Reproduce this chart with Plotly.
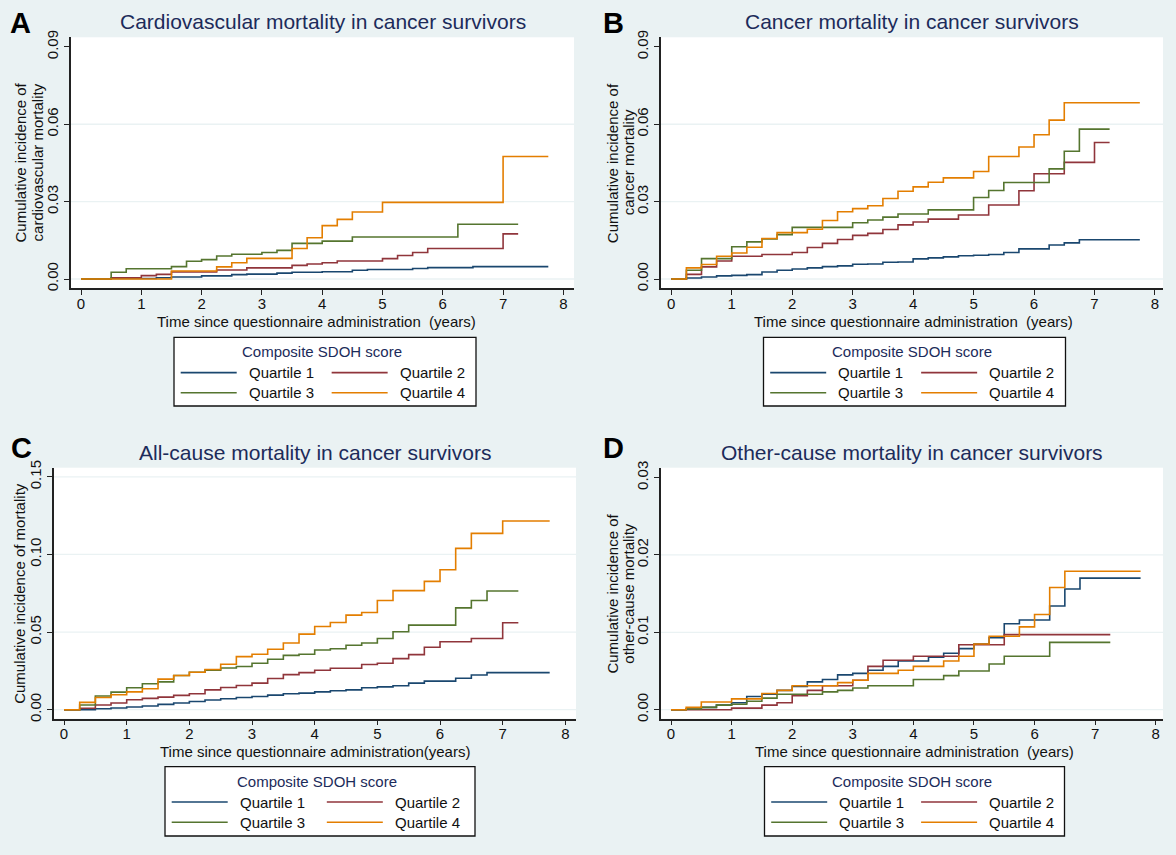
import plotly.graph_objects as go

W, H = 1176, 855
FONT = "Liberation Sans, Arial, sans-serif"
NAVY = "#1c2b5a"
BG = "#EAF2F3"

# ---------------- data ----------------
quartile_names = ["Quartile 1", "Quartile 2", "Quartile 3", "Quartile 4"]
quartile_colors = ["#1A476F", "#90353B", "#55752F", "#E37E00"]

# Panel A: cardiovascular mortality
A_q1_t = [0, 0.5, 1.25, 1.5, 2.0, 2.5, 2.75, 3.25, 3.5, 4.0, 4.5, 4.75, 5.5, 5.75, 6.5, 7.75]
A_q1_y = [0, 0.0002, 0.0005, 0.0008, 0.0012, 0.0017, 0.0019, 0.0023, 0.0026, 0.0028, 0.0034, 0.0037, 0.0041, 0.0044, 0.0048, 0.0048]
A_q2_t = [0, 0.5, 1.0, 1.25, 1.5, 2.25, 2.75, 3.5, 3.75, 4.0, 4.25, 5.0, 5.25, 5.5, 5.75, 7.0, 7.25]
A_q2_y = [0, 0.0005, 0.0013, 0.0018, 0.0027, 0.0035, 0.0043, 0.0053, 0.0058, 0.0063, 0.0070, 0.0079, 0.0091, 0.0103, 0.0118, 0.0175, 0.0175]
A_q3_t = [0, 0.5, 0.75, 1.5, 1.75, 2.0, 2.25, 2.5, 3.0, 3.25, 3.5, 4.0, 4.5, 6.25, 7.25]
A_q3_y = [0, 0.0026, 0.0040, 0.0048, 0.0069, 0.0075, 0.0089, 0.0096, 0.0103, 0.0111, 0.0138, 0.0147, 0.0163, 0.0212, 0.0212]
A_q4_t = [0, 1.5, 2.25, 2.5, 2.75, 3.5, 3.75, 4.0, 4.25, 4.5, 5.0, 7.0, 7.75]
A_q4_y = [0, 0.0031, 0.0047, 0.0063, 0.0080, 0.0118, 0.0160, 0.0207, 0.0231, 0.0260, 0.0297, 0.0475, 0.0475]

# Panel B: cancer mortality
B_q1_t = [0, 0.25, 0.5, 0.75, 1.0, 1.25, 1.5, 1.75, 2.0, 2.25, 2.5, 2.75, 3.0, 3.25, 3.5, 3.75, 4.0, 4.25, 4.5, 4.75, 5.0, 5.25, 5.5, 5.75, 6.25, 6.5, 6.75, 7.75]
B_q1_y = [0, 0.0004, 0.0008, 0.0012, 0.0014, 0.0017, 0.0027, 0.0034, 0.0039, 0.0043, 0.0048, 0.0051, 0.0057, 0.0058, 0.0065, 0.0066, 0.0078, 0.0082, 0.0086, 0.0090, 0.0092, 0.0095, 0.0103, 0.0117, 0.0132, 0.0140, 0.0152, 0.0152]
B_q2_t = [0, 0.25, 0.5, 0.75, 1.0, 1.5, 2.0, 2.25, 2.5, 2.75, 3.0, 3.25, 3.5, 3.75, 4.0, 4.25, 4.75, 5.25, 5.75, 6.0, 6.5, 7.0, 7.25]
B_q2_y = [0, 0.0018, 0.0047, 0.0070, 0.0088, 0.0095, 0.0103, 0.0122, 0.0138, 0.0153, 0.0169, 0.0177, 0.0192, 0.0210, 0.0221, 0.0232, 0.0248, 0.0287, 0.0342, 0.0408, 0.0452, 0.0529, 0.0529]
B_q3_t = [0, 0.25, 0.5, 1.0, 1.25, 1.5, 1.75, 2.0, 3.0, 3.25, 3.5, 3.75, 4.25, 5.0, 5.25, 5.5, 6.25, 6.5, 6.75, 7.25]
B_q3_y = [0, 0.0034, 0.0079, 0.0125, 0.0144, 0.0155, 0.0172, 0.0200, 0.0218, 0.0229, 0.0240, 0.0252, 0.0268, 0.0316, 0.0343, 0.0374, 0.0427, 0.0495, 0.0581, 0.0581]
B_q4_t = [0, 0.25, 0.5, 0.75, 1.0, 1.25, 1.5, 1.75, 2.25, 2.5, 2.75, 3.0, 3.25, 3.5, 3.75, 4.0, 4.25, 4.5, 5.0, 5.25, 5.75, 6.0, 6.25, 6.5, 7.75]
B_q4_y = [0, 0.0043, 0.0056, 0.0088, 0.0101, 0.0123, 0.0157, 0.0180, 0.0193, 0.0227, 0.0261, 0.0273, 0.0284, 0.0312, 0.0340, 0.0357, 0.0375, 0.0392, 0.0417, 0.0475, 0.0512, 0.0559, 0.0616, 0.0683, 0.0683]

# Panel C: all-cause mortality
C_q1_t = [0, 0.5, 0.75, 1.0, 1.25, 1.5, 1.75, 2.0, 2.25, 2.5, 2.75, 3.0, 3.25, 3.5, 3.75, 4.0, 4.25, 4.5, 4.75, 5.0, 5.25, 5.5, 5.75, 6.25, 6.5, 6.75, 7.75]
C_q1_y = [0, 0.0006, 0.0011, 0.0017, 0.0024, 0.0034, 0.0043, 0.0053, 0.0062, 0.0071, 0.0079, 0.0085, 0.0094, 0.0103, 0.0107, 0.0115, 0.0122, 0.0128, 0.0141, 0.0147, 0.0154, 0.0171, 0.0184, 0.0203, 0.0224, 0.0239, 0.0239]
C_q2_t = [0, 0.25, 0.5, 0.75, 1.0, 1.25, 1.5, 1.75, 2.0, 2.25, 2.5, 2.75, 3.0, 3.25, 3.5, 3.75, 4.0, 4.25, 4.75, 5.0, 5.25, 5.5, 5.75, 6.0, 6.5, 7.0, 7.25]
C_q2_y = [0, 0.0009, 0.0030, 0.0043, 0.0064, 0.0073, 0.0081, 0.0092, 0.0103, 0.0128, 0.0143, 0.0156, 0.0171, 0.0201, 0.0226, 0.0239, 0.0254, 0.0267, 0.0291, 0.0299, 0.0329, 0.0355, 0.0402, 0.0438, 0.0459, 0.0560, 0.0560]
C_q3_t = [0, 0.25, 0.5, 0.75, 1.0, 1.25, 1.5, 1.75, 2.0, 2.25, 2.5, 2.75, 3.0, 3.25, 3.5, 3.75, 4.0, 4.25, 4.5, 4.75, 5.0, 5.25, 5.5, 6.25, 6.5, 6.75, 7.25]
C_q3_y = [0, 0.0030, 0.0088, 0.0113, 0.0141, 0.0167, 0.0179, 0.0220, 0.0241, 0.0255, 0.0269, 0.0278, 0.0299, 0.0325, 0.0350, 0.0357, 0.0385, 0.0393, 0.0415, 0.0430, 0.0459, 0.0502, 0.0545, 0.0656, 0.0703, 0.0765, 0.0765]
C_q4_t = [0, 0.25, 0.5, 0.75, 1.0, 1.25, 1.5, 1.75, 2.0, 2.25, 2.5, 2.75, 3.0, 3.25, 3.5, 3.75, 4.0, 4.25, 4.5, 4.75, 5.0, 5.25, 5.75, 6.0, 6.25, 6.5, 7.0, 7.75]
C_q4_y = [0, 0.0047, 0.0079, 0.0096, 0.0115, 0.0135, 0.0197, 0.0220, 0.0241, 0.0259, 0.0293, 0.0342, 0.0357, 0.0389, 0.0430, 0.0487, 0.0536, 0.0562, 0.0609, 0.0626, 0.0703, 0.0767, 0.0827, 0.0902, 0.1039, 0.1136, 0.1216, 0.1216]

# Panel D: other-cause mortality
D_q1_t = [0, 0.25, 0.5, 0.75, 1.0, 1.25, 1.5, 1.75, 2.0, 2.25, 2.5, 2.75, 3.0, 3.25, 3.5, 3.75, 4.25, 4.5, 4.75, 5.0, 5.25, 5.5, 5.75, 6.25, 6.5, 6.75, 7.75]
D_q1_y = [0, 0.0001, 0.0003, 0.0006, 0.0009, 0.0017, 0.0020, 0.0025, 0.0030, 0.0036, 0.0039, 0.0045, 0.0047, 0.0051, 0.0056, 0.0063, 0.0068, 0.0073, 0.0079, 0.0085, 0.0093, 0.0111, 0.0116, 0.0134, 0.0156, 0.0170, 0.0170]
D_q2_t = [0, 1.0, 1.5, 1.75, 2.0, 2.25, 2.5, 3.0, 3.25, 3.5, 4.0, 4.75, 5.5, 7.25]
D_q2_y = [0, 0.0002, 0.0006, 0.0009, 0.0018, 0.0025, 0.0031, 0.0038, 0.0056, 0.0064, 0.0069, 0.0084, 0.0097, 0.0097]
D_q3_t = [0, 0.25, 0.5, 0.75, 1.0, 1.25, 1.5, 1.75, 2.5, 2.75, 3.0, 3.25, 4.0, 4.5, 4.75, 5.25, 5.5, 6.25, 7.25]
D_q3_y = [0, 0.0001, 0.0003, 0.0006, 0.0007, 0.0011, 0.0015, 0.0020, 0.0023, 0.0025, 0.0028, 0.0031, 0.0039, 0.0044, 0.0050, 0.0059, 0.0069, 0.0087, 0.0087]
D_q4_t = [0, 0.25, 0.5, 1.0, 1.5, 1.75, 2.0, 2.75, 3.0, 3.25, 3.75, 4.0, 4.5, 4.75, 5.0, 5.25, 5.75, 6.0, 6.25, 6.5, 7.75]
D_q4_y = [0, 0.0003, 0.0010, 0.0014, 0.0021, 0.0025, 0.0031, 0.0035, 0.0038, 0.0047, 0.0051, 0.0056, 0.0063, 0.0069, 0.0085, 0.0095, 0.0107, 0.0123, 0.0158, 0.0179, 0.0179]

x_ticks = [0, 1, 2, 3, 4, 5, 6, 7, 8]
A_y_ticks = [0.00, 0.03, 0.06, 0.09]
B_y_ticks = [0.00, 0.03, 0.06, 0.09]
C_y_ticks = [0.00, 0.05, 0.10, 0.15]
D_y_ticks = [0.00, 0.01, 0.02, 0.03]
A_grid = [0.00, 0.03, 0.06]
B_grid = [0.00, 0.03, 0.06]
C_grid = [0.00, 0.05, 0.10, 0.15]
D_grid = [0.00, 0.01, 0.02]

titles = ["Cardiovascular mortality in cancer survivors",
          "Cancer mortality in cancer survivors",
          "All-cause mortality in cancer survivors",
          "Other-cause mortality in cancer survivors"]
letters = ["A", "B", "C", "D"]
ytitles = [["Cumulative incidence of", "cardiovascular mortality"],
           ["Cumulative incidence of", "cancer mortality"],
           ["Cumulative incidence of mortality"],
           ["Cumulative incidence of", "other-cause mortality"]]
xtitles = ["Time since questionnaire administration\u00a0 (years)",
           "Time since questionnaire administration\u00a0 (years)",
           "Time since questionnaire administration(years)",
           "Time since questionnaire administration\u00a0 (years)"]
legend_title = "Composite SDOH score"

series = [
    [(A_q1_t, A_q1_y), (A_q2_t, A_q2_y), (A_q3_t, A_q3_y), (A_q4_t, A_q4_y)],
    [(B_q1_t, B_q1_y), (B_q2_t, B_q2_y), (B_q3_t, B_q3_y), (B_q4_t, B_q4_y)],
    [(C_q1_t, C_q1_y), (C_q2_t, C_q2_y), (C_q3_t, C_q3_y), (C_q4_t, C_q4_y)],
    [(D_q1_t, D_q1_y), (D_q2_t, D_q2_y), (D_q3_t, D_q3_y), (D_q4_t, D_q4_y)],
]
yticks_all = [A_y_ticks, B_y_ticks, C_y_ticks, D_y_ticks]
grids_all = [A_grid, B_grid, C_grid, D_grid]

# ---------------- layout geometry (pixels) ----------------
# plot regions: left, right, top, bottom
regions = [(71, 574, 37.3, 288.3), (661, 1163, 37.3, 288.3),
           (54, 576, 467.7, 718.7), (661, 1163, 467.7, 718.7)]
xranges = [[-0.166, 8.176], [-0.170, 8.133], [-0.160, 8.17], [-0.165, 8.12]]
yranges = [[-0.0036, 0.0937], [-0.0036, 0.0937], [-0.0058, 0.1559], [-0.00116, 0.03127]]
title_y = [21.7, 21.7, 452.7, 452.7]
letter_pos = [(20, 23.3), (613, 23.3), (21, 447.5), (613, 447.5)]
ytitle_x = [[20.7, 37.6], [612.4, 628.5], [19.6], [612.4, 628.5]]
xtitle_pos = [(316, 321.5), (913, 321.5), (315, 751.5), (914, 751.5)]
legend_boxes = [(174, 476, 337.3, 406), (763.5, 1065.5, 337.3, 406),
                (165, 475, 766.7, 836), (764.5, 1064.5, 766.7, 836)]


def px(x):
    return x / W


def py(y):
    return 1 - y / H


fig = go.Figure()
layout = dict(
    width=W, height=H,
    margin=dict(l=0, r=0, t=0, b=0),
    paper_bgcolor=BG, plot_bgcolor="white",
    showlegend=False,
    font=dict(family=FONT, size=15, color="#111111"),
)
shapes = []
annotations = []

for i in range(4):
    sfx = "" if i == 0 else str(i + 1)
    xa, ya = "x" + sfx, "y" + sfx
    l, r, t, b = regions[i]
    layout["xaxis" + sfx] = dict(
        domain=[px(l), px(r)], range=xranges[i], anchor=ya,
        tickvals=x_ticks, ticks="outside", ticklen=5, tickwidth=1.3,
        tickcolor="#222222", showline=True, linecolor="#222222", linewidth=1.5,
        showgrid=False, zeroline=False, automargin=False,
        ticklabelstandoff=-4,
        tickfont=dict(family=FONT, size=15, color="#111111"),
        fixedrange=True,
    )
    layout["yaxis" + sfx] = dict(
        domain=[py(b), py(t)], range=yranges[i], anchor=xa,
        tickvals=yticks_all[i], tickformat=".2f", tickangle=-90,
        ticks="outside", ticklen=5, tickwidth=1.3, tickcolor="#222222",
        showline=True, linecolor="#222222", linewidth=1.5,
        showgrid=False, zeroline=False, automargin=False,
        tickfont=dict(family=FONT, size=15, color="#111111"),
        fixedrange=True,
    )
    # gridlines
    for g in grids_all[i]:
        shapes.append(dict(type="line", xref=xa + " domain", yref=ya,
                           x0=0, x1=1, y0=g, y1=g, layer="below",
                           line=dict(color=BG, width=1.3)))
    # curves
    for q in range(4):
        tt, yy = series[i][q]
        fig.add_trace(go.Scatter(
            x=tt, y=yy, mode="lines", line_shape="hv",
            line=dict(color=quartile_colors[q], width=1.6),
            name=quartile_names[q], xaxis=xa, yaxis=ya, showlegend=False,
            hoverinfo="skip",
        ))
    # title
    annotations.append(dict(text=titles[i], x=px((l + r) / 2), y=py(title_y[i]),
                            xref="paper", yref="paper", showarrow=False,
                            xanchor="center", yanchor="middle",
                            font=dict(family=FONT, size=21, color=NAVY)))
    # panel letter
    lx, ly = letter_pos[i]
    annotations.append(dict(text="<b>" + letters[i] + "</b>", x=px(lx), y=py(ly),
                            xref="paper", yref="paper", showarrow=False,
                            xanchor="center", yanchor="middle",
                            font=dict(family=FONT, size=29, color="#000000")))
    # y-axis title lines
    for k, line_txt in enumerate(ytitles[i]):
        annotations.append(dict(text=line_txt, x=px(ytitle_x[i][k]), y=py((t + b) / 2),
                                xref="paper", yref="paper", showarrow=False,
                                textangle=-90, xanchor="center", yanchor="middle",
                                font=dict(family=FONT, size=15, color="#111111")))
    # x-axis title
    xtx, xty = xtitle_pos[i]
    annotations.append(dict(text=xtitles[i], x=px(xtx), y=py(xty),
                            xref="paper", yref="paper", showarrow=False,
                            xanchor="center", yanchor="middle",
                            font=dict(family=FONT, size=15, color="#111111")))
    # legend (drawn box)
    bl, br, bt, bb = legend_boxes[i]
    bw = br - bl
    shapes.append(dict(type="rect", xref="paper", yref="paper",
                       x0=px(bl), x1=px(br), y0=py(bb), y1=py(bt),
                       fillcolor="white", line=dict(color="#111111", width=1.3),
                       layer="above"))
    annotations.append(dict(text=legend_title, x=px((bl + br) / 2 - 3), y=py(bt + 14.5),
                            xref="paper", yref="paper", showarrow=False,
                            xanchor="center", yanchor="middle",
                            font=dict(family=FONT, size=15, color=NAVY)))
    rows = [bt + 35.3, bt + 55.5]
    cols = [bl + 6.7, bl + 0.522 * bw]
    for q in range(4):
        cx = cols[q % 2]
        ry = rows[q // 2]
        shapes.append(dict(type="line", xref="paper", yref="paper",
                           x0=px(cx), x1=px(cx + 56), y0=py(ry), y1=py(ry),
                           line=dict(color=quartile_colors[q], width=1.6),
                           layer="above"))
        annotations.append(dict(text=quartile_names[q], x=px(cx + 66), y=py(ry),
                                xref="paper", yref="paper", showarrow=False,
                                xanchor="left", yanchor="middle",
                                font=dict(family=FONT, size=15, color="#111111")))

layout["shapes"] = shapes
layout["annotations"] = annotations
fig.update_layout(**layout)
fig.write_html(
    "out.html",
    config={"displayModeBar": False},
    post_script="document.body.style.margin='0';document.body.style.overflow='hidden';",
)
